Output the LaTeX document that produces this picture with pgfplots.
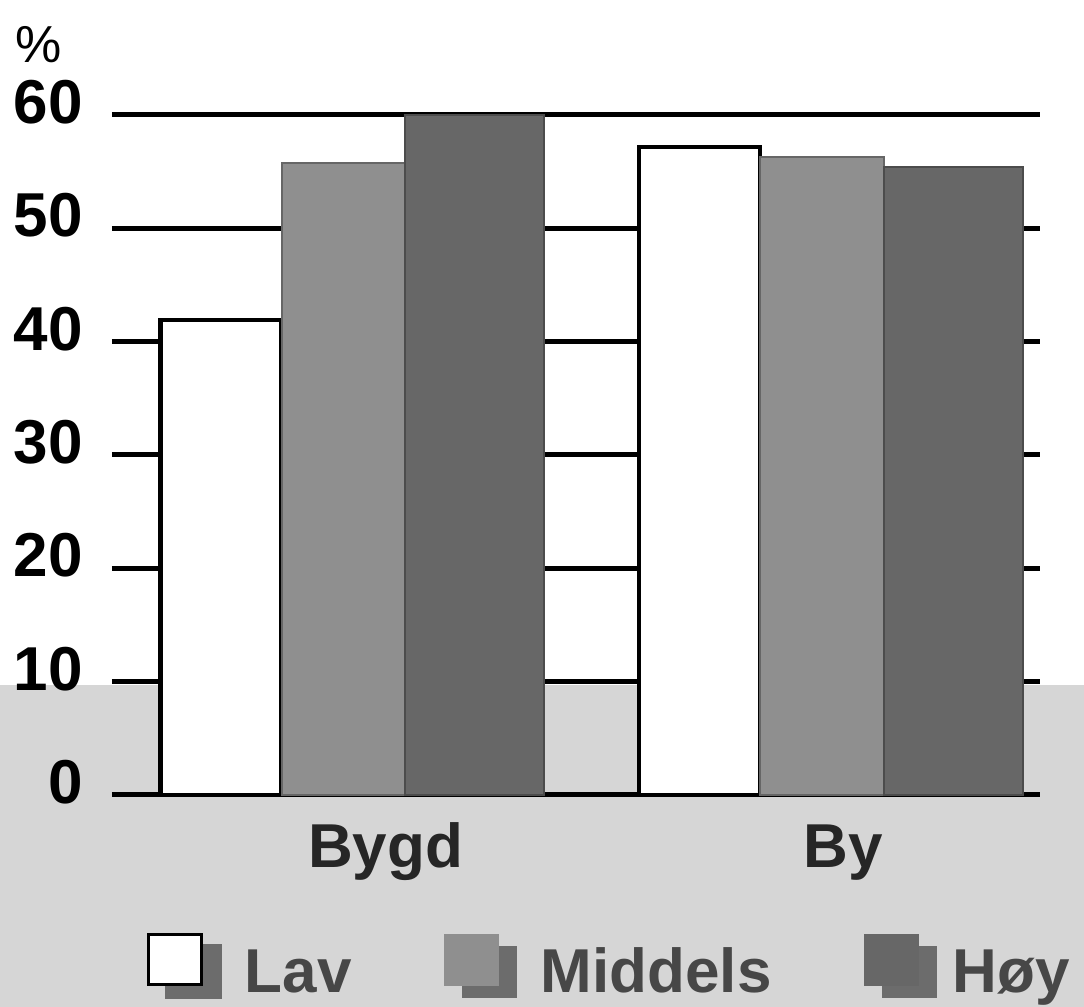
\documentclass[border=0pt]{standalone}
\usepackage{pgfplots}
\pgfplotsset{compat=1.18}
\usepackage{fontspec}
\setmainfont{Liberation Sans}
\definecolor{bgg}{HTML}{D6D6D6}
\definecolor{mid}{HTML}{8F8F8F}
\definecolor{hoy}{HTML}{676767}
\definecolor{shad}{HTML}{6C6C6C}
\newcommand{\bigfont}{\fontsize{31}{34}\selectfont\bfseries}
\begin{document}
\begin{tikzpicture}
\useasboundingbox (-56pt,-106pt) rectangle (486pt,397.5pt);
\fill[bgg] (-56pt,-106pt) rectangle (486pt,55pt);
\begin{axis}[
  scale only axis, width=464pt, height=340pt,
  xmin=-0.503, xmax=1.437, ymin=0, ymax=60,
  clip=false,
  axis line style={draw=none},
  major tick length=0pt, tick style={draw=none},
  ymajorgrids, grid style={black, line width=2.5pt},
  ytick={0,10,...,60},
  xtick={0.069,1.025}, xticklabels={Bygd,By},
  /pgf/number format/assume math mode=true,
  yticklabel style={font=\bigfont, anchor=east, inner sep=0pt, xshift=-14.5pt, yshift=6.5pt},
  xticklabel style={font=\bigfont, text=black!85, anchor=base, inner sep=0pt, yshift=-36.5pt},
  ybar,
  legend columns=3,
  legend style={at={(axis description cs:0.0377,-0.2515)}, anchor=west, draw=none, fill=none, inner sep=0pt,
    cells={anchor=base west},
    nodes={inner sep=0pt, text depth=0pt, text=black!72, font=\bigfont},
    /tikz/every even column/.append style={column sep=46pt}},
]
\addplot[fill=white, draw=black, line width=2.2pt, bar width=0.253, bar shift=-0.275,
  legend image code/.code={
    \fill[shad] (9pt,-2pt) rectangle (35.5pt,23pt);
    \draw[fill=white, draw=black, line width=1.5pt] (0pt,4pt) rectangle (26.5pt,29pt);
    \path[draw=none, fill=none] (0pt,0pt) -- (48pt,0pt);
  }] coordinates {(0,41.9) (1,57.2)};
\addlegendentry{Lav}
\addplot[fill=mid, draw=black!60, line width=1pt, bar width=0.259, bar shift=-0.018,
  legend image code/.code={
    \fill[shad] (9pt,-2pt) rectangle (35.5pt,23pt);
    \fill[mid] (0pt,4pt) rectangle (26.5pt,29pt);
    \path[draw=none, fill=none] (0pt,0pt) -- (48pt,0pt);
  }] coordinates {(0,55.8) (1,56.3)};
\addlegendentry{Middels}
\addplot[fill=hoy, draw=black!70, line width=1pt, bar width=0.29, bar shift=0.2555,
  legend image code/.code={
    \fill[shad] (9pt,-2pt) rectangle (35.5pt,23pt);
    \fill[hoy] (0pt,4pt) rectangle (26.5pt,29pt);
    \path[draw=none, fill=none] (0pt,0pt) -- (44pt,0pt);
  }] coordinates {(0,60) (1,55.4)};
\addlegendentry{Høy}
\end{axis}
\node[anchor=base west, inner sep=0pt, font=\fontsize{26}{30}\selectfont] at (-48.5pt,366pt) {\%};
\end{tikzpicture}
\end{document}
